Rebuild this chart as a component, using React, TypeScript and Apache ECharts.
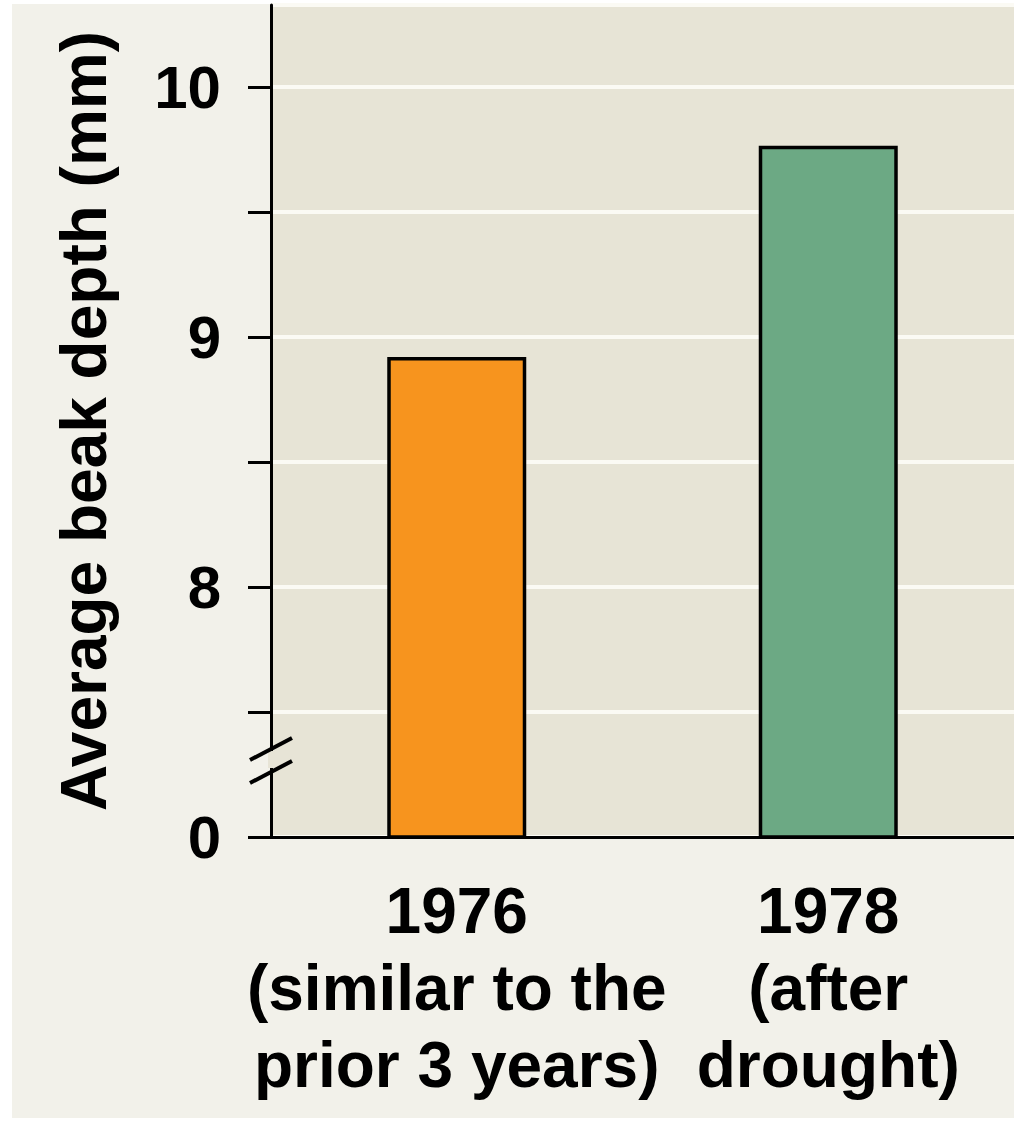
import React, { useEffect, useRef } from "react";
import * as echarts from "echarts";

const categories = ["1976\n(similar to the\nprior 3 years)", "1978\n(after\ndrought)"];
const beakDepth = [8.92, 9.765];
const barColors = ["#F7941E", "#6CA984"];
const axisMin = 7; // drawn as "0" below the axis break
const axisMax = 10.328;
const yAxisName = "Average beak depth (mm)";

const FONT = "'Liberation Sans', Arial, sans-serif";

export default function App() {
  const ref = useRef<HTMLDivElement>(null);
  useEffect(() => {
    if (!ref.current) return;
    const chart = echarts.init(ref.current, undefined, { renderer: "svg" });
    chart.setOption({
      animation: false,
      backgroundColor: "#ffffff",
      textStyle: { fontFamily: FONT },
      graphic: [
        {
          type: "rect",
          z: -10,
          silent: true,
          shape: { x: 12, y: 4, width: 1002, height: 1114 },
          style: { fill: "#f2f1ea" },
        },
        {
          type: "rect",
          z: 100,
          shape: { x: 268, y: 751, width: 6, height: 17 },
          style: { fill: "#e7e4d6" },
        },
        {
          type: "line",
          z: 101,
          shape: { x1: 250, y1: 760, x2: 292, y2: 738 },
          style: { stroke: "#000", lineWidth: 4 },
        },
        {
          type: "line",
          z: 101,
          shape: { x1: 250, y1: 783, x2: 292, y2: 761 },
          style: { stroke: "#000", lineWidth: 4 },
        },
      ],
      grid: {
        left: 271,
        right: 0,
        top: 5,
        bottom: 285,
        show: true,
        backgroundColor: "#e7e4d6",
        borderWidth: 0,
        containLabel: false,
      },
      xAxis: {
        type: "category",
        data: categories,
        axisTick: { show: false },
        axisLine: { show: true, lineStyle: { color: "#000", width: 3 } },
        axisLabel: {
          interval: 0,
          color: "#000",
          fontSize: 64,
          fontWeight: "bold",
          fontFamily: FONT,
          lineHeight: 77,
          margin: 35,
        },
        z: 10,
      },
      yAxis: {
        type: "value",
        min: axisMin,
        max: axisMax,
        interval: 0.5,
        name: yAxisName,
        nameLocation: "middle",
        nameRotate: 90,
        nameGap: 155,
        nameTextStyle: {
          color: "#000",
          fontSize: 64,
          fontWeight: "bold",
          fontFamily: FONT,
        },
        axisLine: { show: true, lineStyle: { color: "#000", width: 3 } },
        axisTick: { show: true, length: 23, lineStyle: { color: "#000", width: 3 } },
        axisLabel: {
          color: "#000",
          fontSize: 60,
          fontWeight: "bold",
          fontFamily: FONT,
          margin: 50,
          showMaxLabel: false,
          formatter: (v: number) => {
            if (Math.abs(v - axisMin) < 1e-6) return "0";
            if (Math.abs(v - Math.round(v)) < 1e-6) return String(Math.round(v));
            return "";
          },
        },
        splitLine: { show: true, lineStyle: { color: "#fbfaf4", width: 4 } },
      },
      series: [
        {
          type: "bar",
          barWidth: 139,
          z: 5,
          data: beakDepth.map((v, i) => ({
            value: v,
            itemStyle: { color: barColors[i], borderColor: "#000", borderWidth: 3.5 },
          })),
        },
      ],
    });
    return () => chart.dispose();
  }, []);
  return (
    <div
      ref={ref}
      style={{ position: "absolute", left: 0, top: 0, width: 1014, height: 1122 }}
    />
  );
}
